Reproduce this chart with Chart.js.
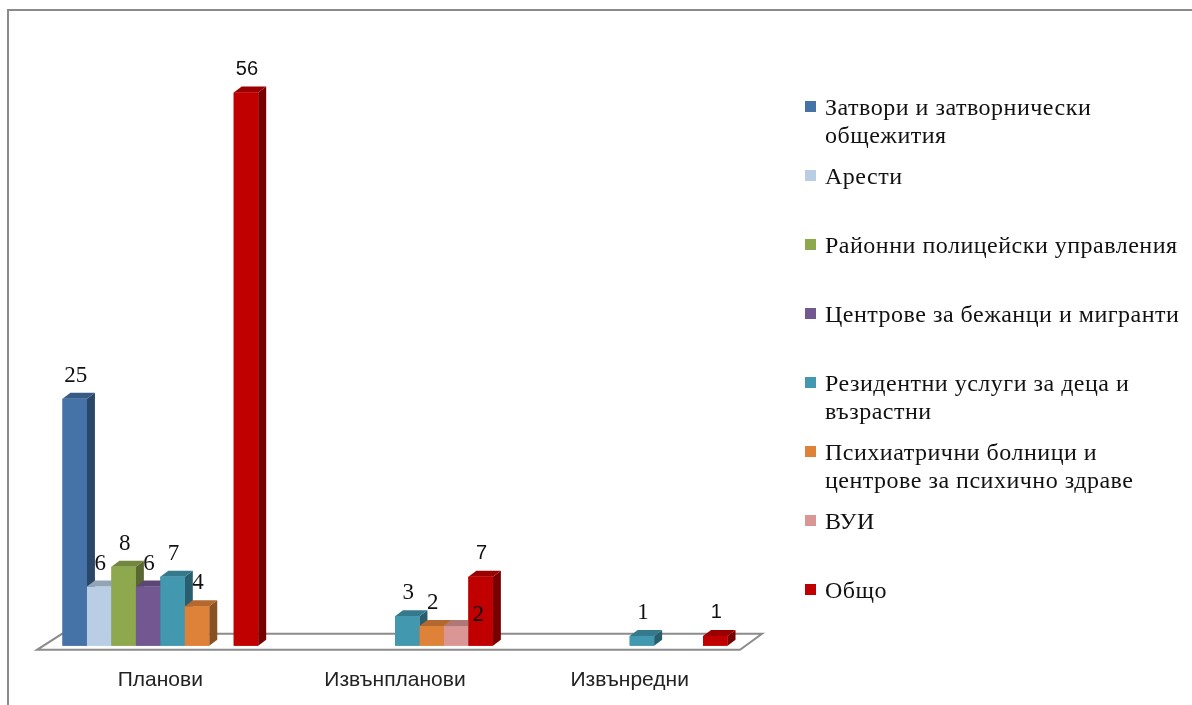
<!DOCTYPE html>
<html>
<head>
<meta charset="utf-8">
<script src="https://cdn.jsdelivr.net/npm/chart.js@4.4.1/dist/chart.umd.min.js"></script>
<style>
    body { margin: 0; background: #fff; }
    #wrap { position: relative; width: 1192px; height: 705px; overflow: hidden; }
    #frame { position: absolute; left: 7px; top: 9px; width: 1300px; height: 800px;
             border-top: 2px solid #8a8a8a; border-left: 2px solid #8a8a8a; }
    #legend { position: absolute; left: 805px; top: 0; width: 390px;
              font-family: "Liberation Serif", "Times New Roman", serif; font-size: 24px;
              letter-spacing: 0.5px; color: #111; }
    .item { position: absolute; left: 0; line-height: 28px; }
    .box { position: absolute; left: 0; top: 8px; width: 11px; height: 11px; }
    .txt { position: absolute; left: 20px; top: 0; white-space: nowrap; }
</style>
</head>
<body>
<div id="wrap">
    <div id="frame"></div>
    <canvas id="myChart" width="1192" height="705"></canvas>
    <div id="legend"></div>
</div>
<script>
const categories = ['Планови', 'Извънпланови', 'Извънредни'];

const seriesNames = [
    'Затвори и затворнически общежития',
    'Арести',
    'Районни полицейски управления',
    'Центрове за бежанци и мигранти',
    'Резидентни услуги за деца и възрастни',
    'Психиатрични болници и центрове за психично здраве',
    'ВУИ',
    'Общо'
];
// how the legend text wraps in the original
const legendLines = [
    ['Затвори и затворнически', 'общежития'],
    ['Арести'],
    ['Районни полицейски управления'],
    ['Центрове за бежанци и мигранти'],
    ['Резидентни услуги за деца и', 'възрастни'],
    ['Психиатрични болници и', 'центрове за психично здраве'],
    ['ВУИ'],
    ['Общо']
];

const prisons     = [25, null, null];
const arrests     = [6, null, null];
const policeUnits = [8, null, null];
const refugees    = [6, null, null];
const residential = [7, 3, 1];
const psychiatric = [4, 2, null];
const vui         = [null, 2, null];
const total       = [56, 7, 1];

const colors = ['#4572A7', '#B9CDE5', '#8EA84E', '#735791', '#4198AF', '#DE8239', '#D99694', '#C00000'];

function shade(hex, f) {
    const n = parseInt(hex.slice(1), 16);
    const r = Math.round(((n >> 16) & 255) * f);
    const g = Math.round(((n >> 8) & 255) * f);
    const b = Math.round((n & 255) * f);
    return `rgb(${r},${g},${b})`;
}

const DX = 8, DY = 6;

// floor + 3d boxes + value labels
const bars3d = {
    id: 'bars3d',
    beforeDatasetsDraw(chart) {
        const a = chart.chartArea;
        const ctx = chart.ctx;
        ctx.save();
        ctx.beginPath();
        ctx.moveTo(a.left - 6, a.bottom + 4);
        ctx.lineTo(a.right - 7, a.bottom + 4);
        ctx.lineTo(a.right + 15, a.bottom - 12);
        ctx.lineTo(a.left + 19, a.bottom - 12);
        ctx.closePath();
        ctx.fillStyle = '#fff';
        ctx.fill();
        ctx.strokeStyle = '#8c8c8c';
        ctx.lineWidth = 2;
        ctx.stroke();
        ctx.restore();
    },
    afterDatasetsDraw(chart) {
        const ctx = chart.ctx;
        const all = [];
        chart.data.datasets.forEach((ds, i) => {
            chart.getDatasetMeta(i).data.forEach((el, j) => {
                if (ds.data[j] === null) return;
                all.push({ el, color: colors[i], value: ds.data[j], ds: i });
            });
        });
        all.sort((p, q) => p.el.x - q.el.x);
        ctx.save();
        all.forEach(b => {
            const w = b.el.width;
            const l = b.el.x - w / 2, r = b.el.x + w / 2;
            const t = b.el.y, base = b.el.base;
            // side
            ctx.fillStyle = shade(b.color, 0.62);
            ctx.beginPath();
            ctx.moveTo(r, t); ctx.lineTo(r + DX, t - DY);
            ctx.lineTo(r + DX, base - DY); ctx.lineTo(r, base);
            ctx.closePath(); ctx.fill();
            // top
            ctx.fillStyle = shade(b.color, 0.8);
            ctx.beginPath();
            ctx.moveTo(l, t); ctx.lineTo(r, t);
            ctx.lineTo(r + DX, t - DY); ctx.lineTo(l + DX, t - DY);
            ctx.closePath(); ctx.fill();
            // front
            ctx.fillStyle = b.color;
            ctx.fillRect(l, t, w, base - t);
        });
        // labels
        ctx.fillStyle = '#111';
        ctx.textAlign = 'center';
        ctx.textBaseline = 'middle';
        all.forEach(b => {
            let x = b.el.x + 1, y = b.el.y - 23;
            if (b.ds === 6) { x += 21; y += 12; }
            ctx.font = b.ds === 7 ? '20px "Liberation Sans", Arial, sans-serif'
                                  : '23px "Liberation Serif", "Times New Roman", serif';
            ctx.fillText(String(b.value), x, y);
        });
        ctx.restore();
    }
};

const seriesData = [prisons, arrests, policeUnits, refugees, residential, psychiatric, vui, total];

const chartData = {
    type: 'bar',
    data: {
        labels: categories,
        datasets: seriesData.map((d, i) => ({
            label: seriesNames[i],
            data: d,
            backgroundColor: colors[i],
            borderWidth: 0,
            categoryPercentage: 0.834,
            barPercentage: 1
        }))
    },
    options: {
        responsive: false,
        animation: false,
        layout: { padding: { left: 43, right: 445, top: 53, bottom: -10 } },
        plugins: {
            legend: { display: false },
            tooltip: { enabled: false }
        },
        scales: {
            x: {
                grid: { display: false, drawTicks: false },
                border: { display: false },
                ticks: {
                    color: '#222',
                    padding: 22,
                    font: { family: '"Liberation Sans", Arial, sans-serif', size: 21 }
                }
            },
            y: {
                display: false,
                min: 0,
                max: 60
            }
        }
    },
    plugins: [bars3d]
};

new Chart(document.getElementById('myChart'), chartData);

// html legend
const legend = document.getElementById('legend');
legendLines.forEach((lines, i) => {
    const item = document.createElement('div');
    item.className = 'item';
    item.style.top = (93 + 69 * i) + 'px';
    const box = document.createElement('div');
    box.className = 'box';
    box.style.background = colors[i];
    const txt = document.createElement('div');
    txt.className = 'txt';
    txt.innerHTML = lines.join('<br>');
    item.appendChild(box);
    item.appendChild(txt);
    legend.appendChild(item);
});
</script>
</body>
</html>
